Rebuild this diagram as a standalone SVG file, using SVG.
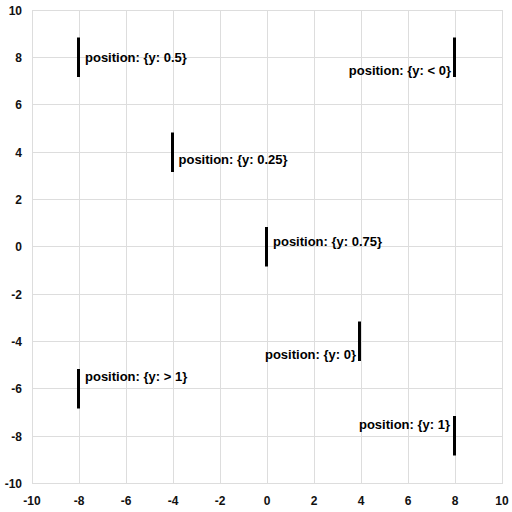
<svg xmlns="http://www.w3.org/2000/svg" width="512" height="512" viewBox="0 0 512 512">
<style>
.grid line{stroke:#dddddd;stroke-width:1}
.tick{font-family:"Liberation Sans",Arial,sans-serif;font-size:12px;font-weight:bold;fill:#111}
.bar{stroke:#000;stroke-width:3}
.lbl{font-family:"Liberation Sans",Arial,sans-serif;font-size:13px;font-weight:bold;fill:#000}
</style>
<rect width="512" height="512" fill="#fff"/>
<g id="grid" class="grid">
<line x1="32.5" y1="10" x2="32.5" y2="483.5"/>
<line x1="79.5" y1="10" x2="79.5" y2="483.5"/>
<line x1="126.5" y1="10" x2="126.5" y2="483.5"/>
<line x1="173.5" y1="10" x2="173.5" y2="483.5"/>
<line x1="220.5" y1="10" x2="220.5" y2="483.5"/>
<line x1="267.5" y1="10" x2="267.5" y2="483.5"/>
<line x1="314.5" y1="10" x2="314.5" y2="483.5"/>
<line x1="361.5" y1="10" x2="361.5" y2="483.5"/>
<line x1="408.5" y1="10" x2="408.5" y2="483.5"/>
<line x1="455.5" y1="10" x2="455.5" y2="483.5"/>
<line x1="502.5" y1="10" x2="502.5" y2="483.5"/>
<line x1="32" y1="10.5" x2="503" y2="10.5"/>
<line x1="32" y1="57.5" x2="503" y2="57.5"/>
<line x1="32" y1="104.5" x2="503" y2="104.5"/>
<line x1="32" y1="152.5" x2="503" y2="152.5"/>
<line x1="32" y1="199.5" x2="503" y2="199.5"/>
<line x1="32" y1="246.5" x2="503" y2="246.5"/>
<line x1="32" y1="294.5" x2="503" y2="294.5"/>
<line x1="32" y1="341.5" x2="503" y2="341.5"/>
<line x1="32" y1="388.5" x2="503" y2="388.5"/>
<line x1="32" y1="436.5" x2="503" y2="436.5"/>
<line x1="32" y1="483.5" x2="503" y2="483.5"/>
</g>
<g id="yaxis" class="tick" text-anchor="end">
<text x="22" y="15">10</text>
<text x="22" y="62">8</text>
<text x="22" y="109">6</text>
<text x="22" y="157">4</text>
<text x="22" y="204">2</text>
<text x="22" y="251">0</text>
<text x="22" y="299">-2</text>
<text x="22" y="346">-4</text>
<text x="22" y="393">-6</text>
<text x="22" y="441">-8</text>
<text x="22" y="488">-10</text>
</g>
<g id="xaxis" class="tick" text-anchor="middle">
<text x="32" y="505">-10</text>
<text x="79" y="505">-8</text>
<text x="126" y="505">-6</text>
<text x="173" y="505">-4</text>
<text x="220" y="505">-2</text>
<text x="267" y="505">0</text>
<text x="314" y="505">2</text>
<text x="361" y="505">4</text>
<text x="408" y="505">6</text>
<text x="455" y="505">8</text>
<text x="502" y="505">10</text>
</g>
<g id="marker1"><line class="bar" x1="78.5" y1="37.5" x2="78.5" y2="77"/><text class="lbl" x="85" y="62">position: {y: 0.5}</text></g>
<g id="marker2"><line class="bar" x1="454.5" y1="37.5" x2="454.5" y2="77"/><text class="lbl" x="451" y="75" text-anchor="end">position: {y: &lt; 0}</text></g>
<g id="marker3"><line class="bar" x1="172.5" y1="132.5" x2="172.5" y2="172"/><text class="lbl" x="178.5" y="164">position: {y: 0.25}</text></g>
<g id="marker4"><line class="bar" x1="266.5" y1="227" x2="266.5" y2="266.5"/><text class="lbl" x="273" y="246">position: {y: 0.75}</text></g>
<g id="marker5"><line class="bar" x1="359.5" y1="321.5" x2="359.5" y2="361"/><text class="lbl" x="356" y="359" text-anchor="end">position: {y: 0}</text></g>
<g id="marker6"><line class="bar" x1="78.5" y1="369" x2="78.5" y2="408.5"/><text class="lbl" x="85" y="381">position: {y: &gt; 1}</text></g>
<g id="marker7"><line class="bar" x1="454.5" y1="416" x2="454.5" y2="455.5"/><text class="lbl" x="450" y="428.5" text-anchor="end">position: {y: 1}</text></g>
</svg>
